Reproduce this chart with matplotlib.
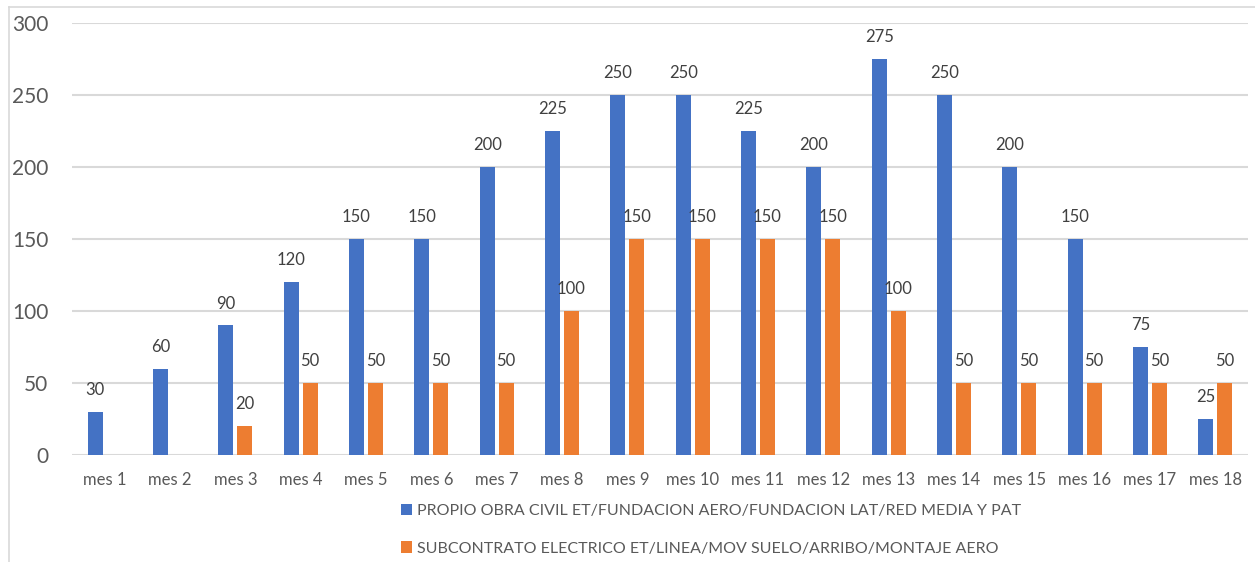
import numpy as np
from matplotlib import pyplot as plt
from matplotlib.lines import Line2D

plt.rcParams['font.family'] = ['Lato', 'DejaVu Sans']

meses = ["mes %d" % i for i in range(1, 19)]
propio = [30, 60, 90, 120, 150, 150, 200, 225, 250, 250, 225, 200, 275, 250, 200, 150, 75, 25]
subcontrato = [None, None, 20, 50, 50, 50, 50, 100, 150, 150, 150, 150, 100, 50, 50, 50, 50, 50]
nombres = ["PROPIO OBRA CIVIL ET/FUNDACION AERO/FUNDACION LAT/RED MEDIA Y PAT",
           "SUBCONTRATO ELECTRICO ET/LINEA/MOV SUELO/ARRIBO/MONTAJE AERO"]

azul = '#4472c4'
naranja = '#ed7d31'

fig = plt.figure(figsize=(12.55, 5.62), dpi=100)
ax = fig.add_axes([72 / 1255, 1 - 455 / 562, (1248 - 72) / 1255, (455 - 23) / 562])

x = np.arange(len(meses))
w = 0.23
off = 0.145

b1 = ax.bar(x - off, propio, width=w, color=azul, zorder=3, label=nombres[0])
xs = [xi for xi, v in zip(x, subcontrato) if v is not None]
vs = [v for v in subcontrato if v is not None]
b2 = ax.bar(np.array(xs) + off, vs, width=w, color=naranja, zorder=3, label=nombres[1])

for xi, v in zip(x, propio):
    ax.annotate(str(v), (xi - off, v), xytext=(0, 10), textcoords='offset points',
                ha='center', va='bottom', fontsize=12, color='#404040')
for xi, v in zip(xs, vs):
    ax.annotate(str(v), (xi + off, v), xytext=(0, 10), textcoords='offset points',
                ha='center', va='bottom', fontsize=12, color='#404040')

ax.set_xlim(-0.5, len(meses) - 0.5)
ax.set_ylim(0, 300)
ax.set_yticks(range(0, 301, 50))
ax.set_xticks(x)
ax.set_xticklabels(meses)
ax.tick_params(axis='y', labelsize=15, colors='#595959', length=0, pad=17)
ax.tick_params(axis='x', labelsize=12, colors='#595959', length=0, pad=12)
ax.grid(axis='y', color='#d9d9d9', linewidth=1.5, zorder=0)
for s in ax.spines.values():
    s.set_visible(False)

# chart frame
fig.add_artist(Line2D([9 / 1255, 9 / 1255], [0, 1 - 7 / 562], color='#d9d9d9', lw=1.2))
fig.add_artist(Line2D([9 / 1255, 1], [1 - 7 / 562, 1 - 7 / 562], color='#d9d9d9', lw=1.2))

fig.legend(handles=[b1, b2], loc='upper left', bbox_to_anchor=(401 / 1255, 1 - 504 / 562),
           frameon=False, fontsize=11.5, labelcolor='#595959', handlelength=0.7,
           handleheight=0.7, handletextpad=0.3, labelspacing=1.45, borderpad=0, borderaxespad=0)

fig.savefig("out.png", dpi=100)
